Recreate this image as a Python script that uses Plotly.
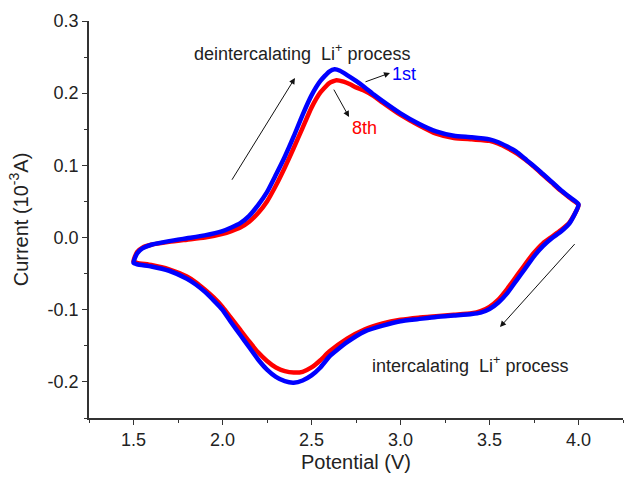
import plotly.graph_objects as go

# 1st cycle (blue)
pot_1st = [1.50, 1.52, 1.55, 1.60, 1.70, 1.80, 1.90, 2.00, 2.05, 2.10, 2.15, 2.20, 2.25, 2.30, 2.35,
           2.40, 2.45, 2.50, 2.55, 2.60, 2.63, 2.66, 2.70, 2.75, 2.80, 2.85, 2.90, 3.00, 3.10, 3.20,
           3.30, 3.40, 3.50, 3.55, 3.60, 3.65, 3.70, 3.75, 3.80, 3.85, 3.90, 3.95, 4.00,
           3.95, 3.90, 3.85, 3.80, 3.75, 3.70, 3.65, 3.60, 3.55, 3.50, 3.45, 3.40, 3.30, 3.20,
           3.10, 3.00, 2.90, 2.80, 2.70, 2.60, 2.55, 2.50, 2.45, 2.40, 2.35, 2.30, 2.25, 2.20, 2.15,
           2.10, 2.05, 2.00, 1.95, 1.90, 1.85, 1.80, 1.70, 1.60, 1.52, 1.50]
cur_1st = [-0.035, -0.022, -0.015, -0.010, -0.005, -0.001, 0.003, 0.009, 0.014, 0.020, 0.030, 0.045, 0.063, 0.087, 0.112,
           0.140, 0.170, 0.197, 0.217, 0.230, 0.233, 0.231, 0.225, 0.217, 0.208, 0.198, 0.189, 0.172, 0.158, 0.147,
           0.141, 0.139, 0.136, 0.132, 0.126, 0.119, 0.109, 0.099, 0.088, 0.077, 0.066, 0.056, 0.046,
           0.020, 0.008, -0.001, -0.012, -0.026, -0.043, -0.060, -0.077, -0.090, -0.099, -0.104, -0.106, -0.108, -0.110,
           -0.113, -0.116, -0.122, -0.130, -0.145, -0.165, -0.180, -0.191, -0.198, -0.201, -0.199, -0.193, -0.183, -0.169, -0.152,
           -0.135, -0.118, -0.100, -0.087, -0.075, -0.065, -0.057, -0.046, -0.040, -0.037, -0.035]

# 8th cycle (red)
pot_8th = [1.50, 1.52, 1.55, 1.60, 1.70, 1.80, 1.90, 2.00, 2.05, 2.10, 2.15, 2.20, 2.25, 2.30, 2.35,
           2.40, 2.45, 2.50, 2.55, 2.60, 2.64, 2.68, 2.72, 2.75, 2.80, 2.85, 2.90, 3.00, 3.10, 3.20,
           3.30, 3.40, 3.50, 3.55, 3.60, 3.65, 3.70, 3.75, 3.80, 3.85, 3.90, 3.95, 4.00,
           3.95, 3.90, 3.85, 3.80, 3.75, 3.70, 3.65, 3.60, 3.55, 3.50, 3.45, 3.40, 3.30, 3.20,
           3.10, 3.00, 2.90, 2.80, 2.70, 2.60, 2.55, 2.50, 2.45, 2.40, 2.35, 2.30, 2.25, 2.20, 2.15,
           2.10, 2.05, 2.00, 1.95, 1.90, 1.85, 1.80, 1.70, 1.60, 1.52, 1.50]
cur_8th = [-0.033, -0.020, -0.014, -0.010, -0.006, -0.003, 0.000, 0.005, 0.009, 0.014, 0.022, 0.034, 0.050, 0.072, 0.097,
           0.124, 0.152, 0.180, 0.201, 0.214, 0.218, 0.216, 0.212, 0.208, 0.203, 0.196, 0.187, 0.170, 0.156, 0.144,
           0.138, 0.136, 0.134, 0.130, 0.124, 0.117, 0.108, 0.098, 0.087, 0.076, 0.065, 0.055, 0.045,
           0.021, 0.010, 0.001, -0.008, -0.021, -0.037, -0.054, -0.071, -0.086, -0.096, -0.102, -0.105, -0.107, -0.109,
           -0.111, -0.114, -0.119, -0.127, -0.140, -0.158, -0.170, -0.180, -0.186, -0.187, -0.185, -0.180, -0.171, -0.159, -0.144,
           -0.128, -0.112, -0.096, -0.083, -0.072, -0.062, -0.054, -0.044, -0.038, -0.035, -0.033]

x_ticks = [1.5, 2.0, 2.5, 3.0, 3.5, 4.0]
y_ticks = [-0.2, -0.1, 0.0, 0.1, 0.2, 0.3]

FONT = "Liberation Sans, Arial, sans-serif"
TXT = "#222222"

fig = go.Figure()
fig.add_trace(go.Scatter(x=pot_8th, y=cur_8th, mode="lines", name="8th",
                         line=dict(color="#ff0000", width=4.5, shape="spline", smoothing=0.5)))
fig.add_trace(go.Scatter(x=pot_1st, y=cur_1st, mode="lines", name="1st",
                         line=dict(color="#0000ff", width=4.5, shape="spline", smoothing=0.5)))

def arrow(x0, y0, x1, y1):
    fig.add_annotation(x=x1, y=y1, ax=x0, ay=y0, xref="x", yref="y", axref="x", ayref="y",
                       text="", showarrow=True, arrowhead=2, arrowsize=1.2, arrowwidth=1,
                       arrowcolor="#111111")

arrow(2.048, 0.078, 2.407, 0.221)
arrow(2.795, 0.215, 2.941, 0.228)
arrow(2.621, 0.207, 2.711, 0.167)
arrow(3.986, -0.007, 3.559, -0.124)

fig.add_annotation(x=2.447, y=0.256, xref="x", yref="y", showarrow=False,
                   text="deintercalating  Li<sup>+</sup> process",
                   font=dict(family=FONT, size=18, color=TXT))
fig.add_annotation(x=3.39, y=-0.176, xref="x", yref="y", showarrow=False,
                   text="intercalating  Li<sup>+</sup> process",
                   font=dict(family=FONT, size=18, color=TXT))
fig.add_annotation(x=2.94, y=0.226, xref="x", yref="y", showarrow=False, xanchor="left",
                   text="1st", font=dict(family=FONT, size=18, color="#0000ff"))
fig.add_annotation(x=2.80, y=0.152, xref="x", yref="y", showarrow=False,
                   text="8th", font=dict(family=FONT, size=18, color="#ff0000"))

axis_common = dict(showline=True, linecolor="#333333", linewidth=1.5, ticks="outside",
                   ticklen=5, tickwidth=1.2, tickcolor="#333333", showgrid=False, zeroline=False,
                   tickfont=dict(family=FONT, size=18, color=TXT))

fig.update_xaxes(range=[1.25, 4.25], tickvals=x_ticks, ticktext=[f"{v:.1f}" for v in x_ticks],
                 minor=dict(dtick=0.25, tick0=1.25, ticks="outside", ticklen=3, tickcolor="#333333"),
                 title=dict(text="Potential (V)", font=dict(family=FONT, size=20, color=TXT), standoff=6),
                 **axis_common)
fig.update_yaxes(range=[-0.25, 0.3], tickvals=y_ticks, ticktext=[f"{v:.1f}" for v in y_ticks],
                 minor=dict(dtick=0.05, tick0=-0.25, ticks="outside", ticklen=3, tickcolor="#333333"),
                 title=dict(text="Current (10<sup>-3</sup>A)", font=dict(family=FONT, size=20, color=TXT), standoff=14),
                 **axis_common)

fig.update_layout(width=624, height=480, margin=dict(l=89, r=1, t=21, b=62),
                  plot_bgcolor="white", paper_bgcolor="white", showlegend=False)

fig.write_html("out.html")
